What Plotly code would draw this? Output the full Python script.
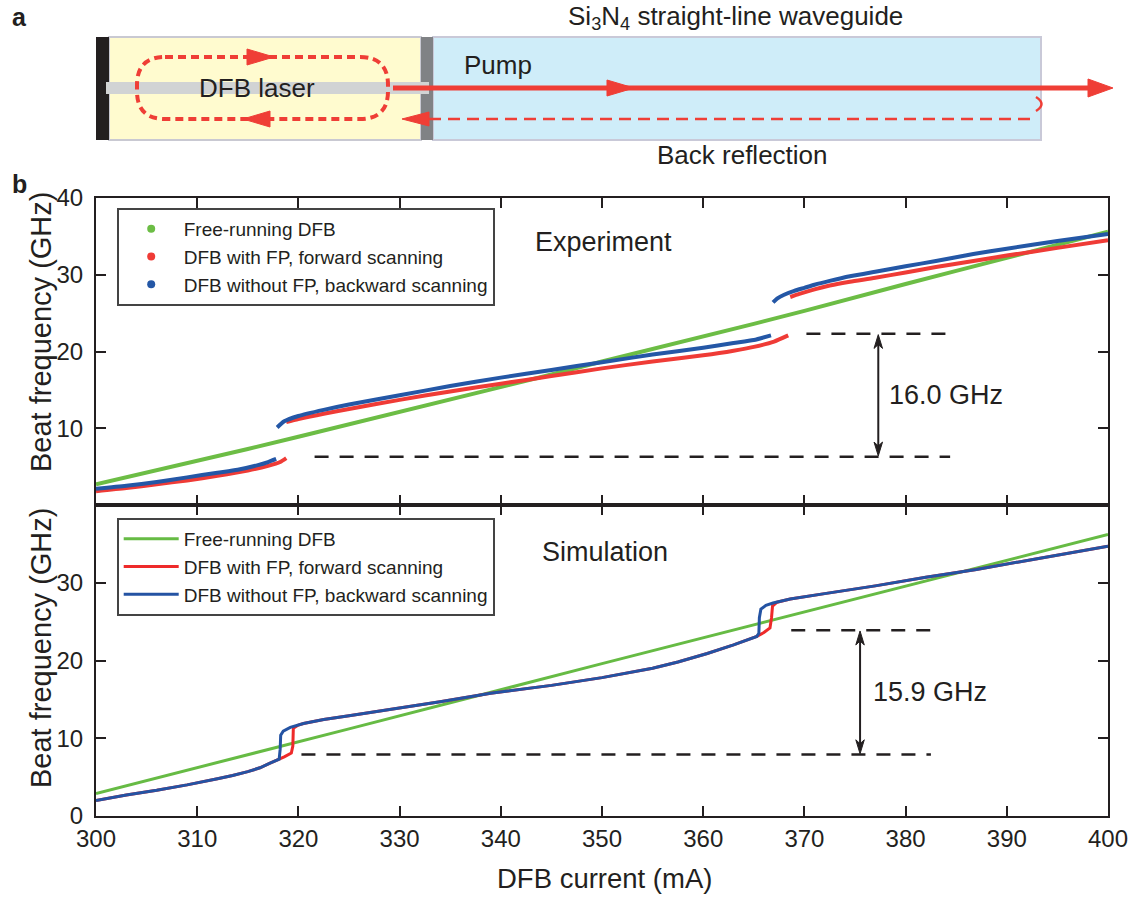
import plotly.graph_objects as go

# ------------------------- data -------------------------
# Experiment (panel b, top)
exp_green_x = [300, 305, 310, 315, 320, 325, 330, 335, 340, 345, 350, 355, 360, 365, 370, 375, 380, 385, 390, 395, 400]
exp_green_y = [2.7, 4.2, 5.8, 7.3, 8.9, 10.5, 12.1, 13.8, 15.4, 17.0, 18.7, 20.3, 22.0, 23.6, 25.3, 27.1, 28.8, 30.5, 32.2, 33.9, 35.6]

exp_red_x1 = [300, 303, 306, 309, 312, 315, 317, 318.2, 318.8]
exp_red_y1 = [1.8, 2.2, 2.7, 3.2, 3.8, 4.5, 5.1, 5.6, 6.1]
exp_red_x2 = [318.8, 320, 322.5, 325, 330, 335, 340, 345, 350, 355, 360, 363, 365, 367, 368.4]
exp_red_y2 = [10.8, 11.2, 11.9, 12.5, 13.7, 14.8, 15.8, 16.8, 17.8, 18.7, 19.5, 20.1, 20.6, 21.3, 22.1]
exp_red_x3 = [368.6, 369.5, 371, 372.5, 374.5, 377, 380, 383, 386.7, 390, 395, 400]
exp_red_y3 = [27.1, 27.5, 28.1, 28.6, 29.1, 29.6, 30.3, 31.0, 31.8, 32.5, 33.5, 34.5]

exp_blue_x1 = [300, 303, 306, 309, 312, 314, 316, 317, 317.8]
exp_blue_y1 = [2.1, 2.5, 3.0, 3.6, 4.2, 4.6, 5.2, 5.6, 6.0]
exp_blue_x2 = [317.9, 318.6, 320, 322.5, 325, 330, 335, 340, 345, 350, 355, 360, 363, 365, 366.7]
exp_blue_y2 = [10.1, 10.9, 11.6, 12.4, 13.1, 14.3, 15.5, 16.6, 17.6, 18.6, 19.6, 20.5, 21.1, 21.5, 22.1]
exp_blue_x3 = [366.9, 367.3, 368, 369, 370, 371, 372.5, 374.5, 377, 380, 383, 386.7, 390, 395, 400]
exp_blue_y3 = [26.4, 26.9, 27.4, 27.9, 28.3, 28.7, 29.2, 29.8, 30.4, 31.1, 31.8, 32.7, 33.4, 34.4, 35.3]

# Simulation (panel b, bottom)
sim_green_x = [300, 325, 350, 375, 400]
sim_green_y = [2.9, 11.2, 19.6, 27.9, 36.2]

sim_blue_x = [300, 303, 306, 309, 312, 313.5, 315, 316.2, 317.2, 318.1, 318.2, 318.25, 318.5, 319.2, 320.5, 322.5,
              325, 329, 334, 339, 345, 350, 352.5, 355, 357.5, 360.4, 363, 365.3, 365.5, 365.55, 365.7, 366.2,
              366.9, 368.6, 372, 377, 382, 387, 393, 400]
sim_blue_y = [2.0, 2.7, 3.3, 4.0, 4.8, 5.2, 5.7, 6.2, 6.8, 7.3, 8.6, 10.4, 10.9, 11.4, 11.9, 12.4,
              12.9, 13.7, 14.7, 15.8, 16.8, 17.8, 18.4, 19.0, 19.8, 20.9, 22.0, 23.1, 23.5, 25.5, 26.6, 27.1,
              27.4, 27.9, 28.6, 29.6, 30.7, 31.7, 33.1, 34.7]

sim_red_x = [300, 303, 306, 309, 312, 313.5, 315, 316.2, 317.2, 318.1, 318.6, 319.3, 319.45, 319.5, 320, 320.5,
             322.5, 325, 329, 334, 339, 345, 350, 352.5, 355, 357.5, 360.4, 363, 365.3, 366.0, 366.6, 366.75,
             366.85, 367.3, 368.6, 372, 377, 382, 387, 393, 400]
sim_red_y = [2.0, 2.7, 3.3, 4.0, 4.8, 5.2, 5.7, 6.2, 6.8, 7.3, 7.6, 8.1, 9.0, 11.3, 11.7, 11.9,
             12.4, 12.9, 13.7, 14.7, 15.8, 16.8, 17.8, 18.4, 19.0, 19.8, 20.9, 22.0, 23.1, 23.6, 24.2, 25.5,
             27.0, 27.5, 27.9, 28.6, 29.6, 30.7, 31.7, 33.1, 34.7]

names = ["Free-running DFB", "DFB with FP, forward scanning", "DFB without FP, backward scanning"]
x_ticks = [300, 310, 320, 330, 340, 350, 360, 370, 380, 390, 400]

# annotation values
exp_gap_low, exp_gap_high, exp_gap_label = 6.3, 22.3, "16.0 GHz"
sim_gap_low, sim_gap_high, sim_gap_label = 7.9, 23.9, "15.9 GHz"

# ------------------------- style -------------------------
GREEN_E, RED_E, BLUE_E = "#6cbd45", "#ef3b36", "#2457a6"
GREEN_S, RED_S, BLUE_S = "#66bb44", "#ee2a2a", "#2453a3"
INK = "#231f20"
FONT = "Liberation Sans, Arial, Helvetica, sans-serif"
W, H = 1135, 897
ML, MR, MT, MB = 96, 27, 0, 81
PW, PH = W - ML - MR, H - MT - MB


def join(*segs):
    xs, ys = [], []
    for i in range(0, len(segs), 2):
        if xs:
            xs.append(None)
            ys.append(None)
        xs += list(segs[i])
        ys += list(segs[i + 1])
    return xs, ys


fig = go.Figure()

# experiment traces (top)
fig.add_trace(go.Scatter(x=exp_green_x, y=exp_green_y, mode="lines", line=dict(color=GREEN_E, width=4),
                         xaxis="x2", yaxis="y2", showlegend=False))
rx, ry = join(exp_red_x1, exp_red_y1, exp_red_x2, exp_red_y2, exp_red_x3, exp_red_y3)
fig.add_trace(go.Scatter(x=rx, y=ry, mode="lines", line=dict(color=RED_E, width=4, shape="spline", smoothing=0.6),
                         xaxis="x2", yaxis="y2", showlegend=False, connectgaps=False))
bx, by = join(exp_blue_x1, exp_blue_y1, exp_blue_x2, exp_blue_y2, exp_blue_x3, exp_blue_y3)
fig.add_trace(go.Scatter(x=bx, y=by, mode="lines", line=dict(color=BLUE_E, width=4, shape="spline", smoothing=0.6),
                         xaxis="x2", yaxis="y2", showlegend=False, connectgaps=False))
# legend entries (dots) for experiment
for nm, c in zip(names, [GREEN_E, RED_E, BLUE_E]):
    fig.add_trace(go.Scatter(x=[None], y=[None], mode="markers", marker=dict(color=c, size=8),
                             name=nm, xaxis="x2", yaxis="y2", legend="legend"))

# simulation traces (bottom)
fig.add_trace(go.Scatter(x=sim_green_x, y=sim_green_y, mode="lines", line=dict(color=GREEN_S, width=3),
                         name=names[0], legend="legend2"))
fig.add_trace(go.Scatter(x=sim_red_x, y=sim_red_y, mode="lines", line=dict(color=RED_S, width=3),
                         name=names[1], legend="legend2"))
fig.add_trace(go.Scatter(x=sim_blue_x, y=sim_blue_y, mode="lines", line=dict(color=BLUE_S, width=3),
                         name=names[2], legend="legend2"))

split = (H - MB - 505) / PH
top = (H - MB - 198) / PH

axis_common = dict(showline=True, linecolor=INK, linewidth=2, mirror="ticks", ticks="inside",
                   ticklen=10, tickwidth=2, tickcolor=INK, showgrid=False, zeroline=False,
                   automargin=False, tickfont=dict(size=24, color=INK, family=FONT))

legend_common = dict(xanchor="left", yanchor="top", bordercolor="#444444", borderwidth=2,
                     bgcolor="white", itemwidth=55, font=dict(size=19, color=INK, family=FONT))

fig.update_layout(
    width=W, height=H, margin=dict(l=ML, r=MR, t=MT, b=MB, autoexpand=False),
    paper_bgcolor="white", plot_bgcolor="white",
    font=dict(family=FONT, color=INK),
    xaxis=dict(range=[300, 400], tickvals=x_ticks, anchor="y", **axis_common),
    yaxis=dict(range=[0, 40], domain=[0, split], tickvals=[0, 10, 20, 30], anchor="x",
               ticklabelstandoff=6, **axis_common),
    xaxis2=dict(range=[300, 400], tickvals=x_ticks, anchor="y2", matches="x", showticklabels=False,
                **axis_common),
    yaxis2=dict(range=[0, 40], domain=[split, top], tickvals=[10, 20, 30, 40], anchor="x2",
                ticklabelstandoff=6, **axis_common),
    legend=dict(x=(116.7 - ML) / PW, y=(H - MB - 208) / PH, **legend_common),
    legend2=dict(x=(116.7 - ML) / PW, y=(H - MB - 518) / PH, **legend_common),
)

shapes = []
annotations = []

# dashed reference lines and double arrows in panels
for (xr, yr, lo, hi, x_lo0, x_hi0, x1, xa) in [
        ("x2", "y2", exp_gap_low, exp_gap_high, 321.6, 370.2, 384.4, 377.3),
        ("x", "y", sim_gap_low, sim_gap_high, 320.3, 368.7, 382.5, 375.5)]:
    shapes.append(dict(type="line", xref=xr, yref=yr, x0=x_lo0, x1=x1, y0=lo, y1=lo,
                       line=dict(color=INK, width=2.5, dash="14px,11px")))
    shapes.append(dict(type="line", xref=xr, yref=yr, x0=x_hi0, x1=x1, y0=hi, y1=hi,
                       line=dict(color=INK, width=2.5, dash="14px,11px")))
    shapes.append(dict(type="line", xref=xr, yref=yr, x0=xa, x1=xa, y0=lo + 1.0, y1=hi - 1.0,
                       line=dict(color=INK, width=2)))
    hw, hh = 0.42, 1.9
    shapes.append(dict(type="path", xref=xr, yref=yr,
                       path=f"M{xa - hw},{hi - hh} L{xa},{hi - 0.1} L{xa + hw},{hi - hh} L{xa},{hi - hh + 0.5} Z",
                       fillcolor=INK, line=dict(color=INK, width=1)))
    shapes.append(dict(type="path", xref=xr, yref=yr,
                       path=f"M{xa - hw},{lo + hh} L{xa},{lo + 0.1} L{xa + hw},{lo + hh} L{xa},{lo + hh - 0.5} Z",
                       fillcolor=INK, line=dict(color=INK, width=1)))

annotations.append(dict(xref="x2", yref="y2", x=378.2, y=14.3, xanchor="left", yanchor="middle",
                        text=exp_gap_label, showarrow=False, font=dict(size=27, color=INK)))
annotations.append(dict(xref="x", yref="y", x=376.6, y=16.0, xanchor="left", yanchor="middle",
                        text=sim_gap_label, showarrow=False, font=dict(size=27, color=INK)))
annotations.append(dict(xref="x2", yref="y2", x=350.1, y=34.3, text="Experiment", showarrow=False,
                        font=dict(size=27, color=INK)))
annotations.append(dict(xref="x", yref="y", x=350.3, y=34.0, text="Simulation", showarrow=False,
                        font=dict(size=27, color=INK)))


# ------------------------- pixel-placed layout helpers -------------------------
def PX(px):
    return (px - ML) / PW


def PY(py):
    return (H - MB - py) / PH


def pt(px, py):
    return f"{PX(px):.5f},{PY(py):.5f}"


def rect(x0, y0, x1, y1, fill, line_color=None, lw=0):
    return dict(type="rect", xref="paper", yref="paper", x0=PX(x0), x1=PX(x1), y0=PY(y1), y1=PY(y0),
                fillcolor=fill, line=dict(color=line_color or fill, width=lw), layer="above")


def tri(points, color):
    p = "M" + " L".join(pt(a, b) for a, b in points) + " Z"
    return dict(type="path", xref="paper", yref="paper", path=p, fillcolor=color,
                line=dict(color=color, width=1), layer="above")


def ptxt(text, px, py, size=26, bold=False, xanchor="center", angle=0):
    return dict(xref="paper", yref="paper", x=PX(px), y=PY(py), text=f"<b>{text}</b>" if bold else text,
                showarrow=False, xanchor=xanchor, yanchor="middle", textangle=angle,
                font=dict(size=size, color=INK))


# axis titles
annotations += [
    ptxt("DFB current (mA)", 604, 878, 27.5),
    ptxt("Beat frequency (GHz)", 41, 332, 29, angle=-90),
    ptxt("Beat frequency (GHz)", 41, 648, 29, angle=-90),
]

# ------------------------- panel a schematic -------------------------
RED = "#ef3e36"
shapes.append(rect(109, 37, 421, 140, "#fffbcf", "#c9c9d2", 2))
shapes.append(rect(433, 37, 1041, 140, "#cfedf9", "#c9c9d8", 2))
shapes.append(rect(96, 37, 109, 140, "#231f20"))
shapes.append(rect(421, 37, 433, 140, "#808285"))
shapes.append(rect(106, 82, 429, 94, "#d1d3d4"))

# dashed loop inside laser
L_, R_, T_, B_, r = 137, 388, 57, 119, 28
loop = (f"M{pt(L_ + r, T_)} L{pt(R_ - r, T_)} Q{pt(R_, T_)} {pt(R_, T_ + r)} L{pt(R_, B_ - r)} "
        f"Q{pt(R_, B_)} {pt(R_ - r, B_)} L{pt(L_ + r, B_)} Q{pt(L_, B_)} {pt(L_, B_ - r)} "
        f"L{pt(L_, T_ + r)} Q{pt(L_, T_)} {pt(L_ + r, T_)} Z")
shapes.append(dict(type="path", xref="paper", yref="paper", path=loop,
                   line=dict(color=RED, width=4, dash="8px,5px"), layer="above"))
shapes.append(tri([(247, 49), (274, 57), (247, 65)], RED))
shapes.append(tri([(270, 111), (243, 119), (270, 127)], RED))

# pump line
shapes.append(dict(type="line", xref="paper", yref="paper", x0=PX(393), x1=PX(1092), y0=PY(88), y1=PY(88),
                   line=dict(color=RED, width=5), layer="above"))
shapes.append(tri([(1088, 79), (1113, 88), (1088, 97)], RED))
shapes.append(tri([(607, 80), (634, 88), (607, 96)], RED))

# back reflection
shapes.append(dict(type="line", xref="paper", yref="paper", x0=PX(1030), x1=PX(428), y0=PY(119), y1=PY(119),
                   line=dict(color=RED, width=2.5, dash="12px,7px"), layer="above"))
shapes.append(tri([(429, 112), (402, 119), (429, 126)], RED))
shapes.append(dict(type="path", xref="paper", yref="paper",
                   path=f"M{pt(1036, 97)} Q{pt(1047, 104)} {pt(1036, 111)}",
                   line=dict(color=RED, width=2.5), layer="above"))

annotations += [
    ptxt("a", 10, 17, 25, True, "left"),
    ptxt("b", 10, 184, 25, True, "left"),
    ptxt("Si<sub>3</sub>N<sub>4</sub> straight-line waveguide", 735, 17),
    ptxt("DFB laser", 257, 88),
    ptxt("Pump", 498, 65),
    ptxt("Back reflection", 742, 155),
]

fig.update_layout(shapes=shapes, annotations=annotations)
fig.write_html("out.html")
